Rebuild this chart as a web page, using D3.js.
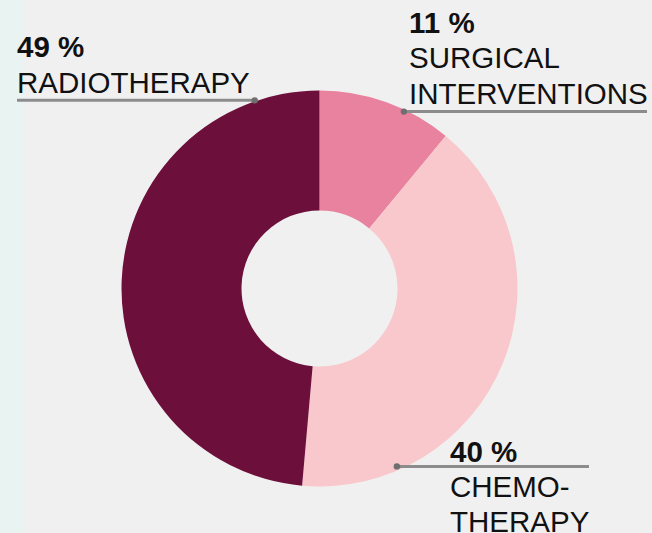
<!DOCTYPE html>
<html>
<head>
<meta charset="utf-8">
<script src="https://cdn.jsdelivr.net/npm/d3@7.9.0/dist/d3.min.js"></script>
<style>
  html, body { margin: 0; padding: 0; background: #f0f0f0; }
  svg { display: block; }
  text { font-family: "Liberation Sans", Arial, sans-serif; fill: #111; }
</style>
</head>
<body>
<svg id="chart" width="652" height="533"></svg>
<script>
// data
const categories = ['SURGICAL INTERVENTIONS', 'CHEMOTHERAPY', 'RADIOTHERAPY'];
const shares = [11, 40.4, 48.6];
const pctLabels = ['11 %', '40 %', '49 %'];
const nameLines = [['SURGICAL', 'INTERVENTIONS'], ['CHEMO-', 'THERAPY'], ['RADIOTHERAPY']];

const colors = ['#e8829f', '#f9c8cc', '#6d0f3b'];

const W = 652, H = 533;
const cx = 319.5, cy = 288.5;
const outerR = 198, innerR = 78;

const svg = d3.select('#chart');

// background + left strip
svg.append('rect').attr('width', W).attr('height', H).attr('fill', '#f0f0f0');
svg.append('rect').attr('width', 23).attr('height', H).attr('fill', '#e9f4f2');

const data = categories.map((c, i) => ({ name: c, value: shares[i], pct: pctLabels[i], lines: nameLines[i] }));

const pie = d3.pie().value(d => d.value).sort(null);
const arc = d3.arc().innerRadius(innerR).outerRadius(outerR);
const arcs = pie(data);

const g = svg.append('g').attr('transform', `translate(${cx},${cy})`);
g.selectAll('path')
  .data(arcs)
  .join('path')
  .attr('d', arc)
  .attr('fill', (d, i) => colors[i]);

// label layout: where the leader touches the ring, line end, text placement
const layout = [
  { angle: 25.5, r: 196, lineEnd: 647, tx: 409, base: 32.5, gap: 35.5 },
  { angle: 156.5, r: 194, lineEnd: 589, tx: 450, base: 461.5, gap: 35 },
  { angle: -19, r: 199, lineEnd: 17, tx: 17, base: 56.5, gap: 36.5 }
];

data.forEach((d, i) => {
  const L = layout[i];
  const a = L.angle * Math.PI / 180;
  const px = cx + L.r * Math.sin(a);
  const py = cy - L.r * Math.cos(a);

  svg.append('line')
    .attr('x1', px).attr('y1', py)
    .attr('x2', L.lineEnd).attr('y2', py)
    .attr('stroke', '#8c8c8c')
    .attr('stroke-width', 3);
  svg.append('circle')
    .attr('cx', px).attr('cy', py).attr('r', 3.2)
    .attr('fill', '#6f6f6f');

  const t = svg.append('g').attr('font-size', 29.5);
  t.append('text')
    .attr('x', L.tx).attr('y', L.base)
    .attr('font-weight', 'bold')
    .text(d.pct);
  d.lines.forEach((ln, j) => {
    t.append('text')
      .attr('x', L.tx).attr('y', L.base + L.gap * (j + 1))
      .text(ln);
  });
});
</script>
</body>
</html>
